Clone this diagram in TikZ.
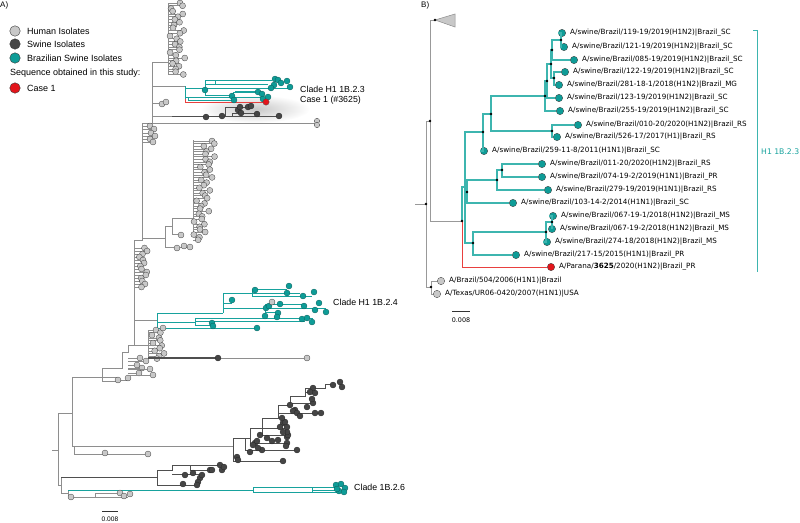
\documentclass[tikz,border=0pt]{standalone}
\usepackage{fontspec}
\setmainfont{Liberation Sans}
\newfontfamily\labfont{DejaVu Sans}
\usetikzlibrary{positioning}

\definecolor{humfill}{HTML}{C8C8C8}
\definecolor{swifill}{HTML}{454545}
\definecolor{brafill}{HTML}{0E9C97}
\definecolor{braedge}{HTML}{0B5F5C}
\definecolor{casfill}{HTML}{E3151B}
\definecolor{dotline}{HTML}{3A3A3A}
\definecolor{treeline}{HTML}{8E8E8E}
\definecolor{swiline}{HTML}{4F4F4F}
\definecolor{braline}{HTML}{17A29D}
\definecolor{bline}{HTML}{3DB5AF}
\definecolor{casline}{HTML}{E8403F}

\begin{document}
\begin{tikzpicture}[x=1pt, y=-1pt,
    tree/.style={draw=treeline, line width=0.6pt},
    swtree/.style={draw=swiline, line width=0.6pt},
    brtree/.style={draw=braline, line width=0.7pt},
    catree/.style={draw=casline, line width=0.8pt},
    hdot/.style={fill=humfill, draw=dotline, line width=0.3pt},
    sdot/.style={fill=swifill, draw=black!85, line width=0.3pt},
    tdot/.style={fill=brafill, draw=braedge, line width=0.3pt},
    legdot/.style={circle, draw=dotline, line width=0.4pt, inner sep=0pt, minimum size=10.5pt},
    legtext/.style={anchor=west, inner sep=0pt, font=\fontsize{9}{10}\selectfont},
    cladetext/.style={anchor=west, inner sep=0pt, font=\fontsize{8.8}{10}\selectfont},
    bleaf/.style={circle, draw=dotline, line width=0.3pt, inner sep=0pt, minimum size=7.4pt},
    blab/.style={anchor=west, inner sep=0pt, font=\labfont\fontsize{7.2}{8}\selectfont},
    bteal/.style={draw=bline, line width=1.2pt},
    bgrey/.style={draw=black!40, line width=0.9pt},
    bred/.style={draw=casline, line width=0.9pt}]
\useasboundingbox (0,0) rectangle (800,522);

% shadow under case 1
\shade[inner color=black!22, outer color=white] (255,109) ellipse [x radius=55, y radius=14];

% panel labels
\node[anchor=west, inner sep=0pt, font=\fontsize{8}{9}\selectfont] (pa) at (0,5) {A)};
\node[anchor=west, inner sep=0pt, font=\fontsize{8}{9}\selectfont] (pb) at (421,5) {B)};

% legend
\node[legdot, fill=humfill] (lh) at (15,31) {};
\node[legtext, right=6.5pt of lh] (th) {Human Isolates};
\node[legdot, fill=swifill] (ls) at (15,44) {};
\node[legtext, right=6.5pt of ls] (ts) {Swine Isolates};
\node[legdot, fill=brafill] (lb) at (15,58) {};
\node[legtext, right=6.5pt of lb] (tb) {Brazilian Swine Isolates};
\node[legtext] (tq) at (10,73) {Sequence obtained in this study:};
\node[legdot, fill=casfill] (lc) at (15,88) {};
\node[legtext, right=6.5pt of lc] (tc) {Case 1};

% ---------------- A) tree ----------------
% root and backbone
\draw[tree] (52,450) -- (58,450);
\draw[tree] (58,413) -- (58,485);
\draw[tree] (58,413) -- (72,413);
\draw[tree] (72,377) -- (72,446) -- (233,446);
\draw[tree] (74,446) |- (146,454);
\draw[tree] (58,485) -- (61,485);
\draw[tree] (61,477) -- (61,493);
\draw[swtree] (61,477) -- (157,477);
\draw[tree] (61,493) -- (68,493);
\draw[tree] (68,490) -- (68,497) -- (128,497);
\draw[tree] (95,497) |- (119,493);
\draw[tree] (72,377) -- (102,377) -- (102,368) -- (122,368) -- (122,352) -- (128,352)
    -- (128,345) -- (134,345) -- (134,240) -- (142,240) -- (142,123) -- (152,123)
    -- (152,62) -- (168,62);
\draw[tree] (102,377) rectangle (117,381);

% clade 1B.2.6
\draw[brtree] (68,490) -- (253,490);
\draw[brtree] (253,487) rectangle (312,492);
\draw[brtree] (312,487) -- (336,487) (312,490) -- (340,490) (312,492) -- (338,492);
\foreach \x/\y in {336/485,341/484,345/488,339/491,344/492,337/489}
    \filldraw[tdot] (\x,\y) circle (3);
\foreach \x/\y in {71/497,120/493,124/496,130/494,105/453,148/454}
    \filldraw[hdot] (\x,\y) circle (3);

% top human cluster
\draw[tree] (168,3) -- (168,75);
\foreach \i in {0,...,26} {
    \pgfmathsetmacro{\hx}{177+5*sin(\i*113)+3*cos(\i*71)}
    \pgfmathsetmacro{\hy}{3+\i*2.75}
    \draw[tree] (168,\hy) -- (\hx,\hy);
    \filldraw[hdot] (\hx,\hy) circle (3);
}

% branches off the upper backbone
\draw[tree] (152,103) -- (160,103);
\foreach \x/\y in {162/104,166/102}
    \filldraw[hdot] (\x,\y) circle (3);
\draw[tree] (152,123) -- (317,123);
\draw[tree] (152,116) -- (172,116);
\draw[swtree] (172,116) -- (279,116);
\draw[swtree] (225,116) |- (251,107);
\draw[swtree] (232,116) |- (257,113);
\foreach \x/\y in {206/117,222/116,238/110,240/107,241/113,248/107,251/106,257/114,279/116}
    \filldraw[sdot] (\x,\y) circle (3);
\filldraw[hdot] (317,121) circle (2.7);
\filldraw[hdot] (317,125) circle (2.7);
\foreach \x/\y in {150/126,154/129,151/133,155/136,150/139,153/142} {
    \draw[tree] (142,\y) -- (\x,\y);
    \filldraw[hdot] (\x,\y) circle (3);
}

% clade H1 1B.2.3 and case 1
\draw[tree] (152,86) -- (185,86);
\draw[catree] (185,98) -- (185,102) -- (263,102);
\draw[brtree] (185,86) -- (185,99);
\draw[brtree] (185,88) -- (205,88) (205,80) -- (205,95);
\draw[brtree] (205,80) -- (272,80) (205,84) -- (268,84) (215,84) -- (215,80);
\draw[brtree] (205,88) -- (288,88);
\draw[brtree] (205,95) -- (233,95) (233,92) -- (258,92) (233,92) -- (233,97);
\draw[braline, line width=1.6pt] (235,92) -- (257,92);
\draw[brtree] (185,97) -- (263,97) (188,100) -- (232,100) (188,97) -- (188,100);
\foreach \x/\y in {205/90,275/79,278/80,287/81,274/85,271/88,290/87,258/92,262/94,
    263/99,268/97,232/96,234/100,281/83}
    \filldraw[tdot] (\x,\y) circle (3);
\filldraw[fill=casfill, draw=black!70, line width=0.3pt] (266,102) circle (3.2);
\node[cladetext] (cl3) at (300,89) {Clade H1 1B.2.3};
\node[cladetext] (cs1) at (300,100) {Case 1 (\#3625)};

% big human cluster
\draw[tree] (142,238) -- (165,238);
\draw[tree] (165,226) -- (165,247) -- (190,247);
\draw[tree] (165,226) -- (172,226) (172,218) -- (172,234) -- (180,234);
\draw[tree] (172,218) -- (193,218) (193,140) -- (193,232);
\foreach \i in {0,...,38} {
    \pgfmathsetmacro{\hx}{210-0.3*\i+5*sin(\i*137)+2*cos(\i*53)}
    \pgfmathsetmacro{\hy}{141+\i*2.6}
    \draw[tree] (193,\hy) -- (\hx,\hy);
    \filldraw[hdot] (\hx,\hy) circle (3);
}
\foreach \x/\y in {177/248,184/246,190/247,181/235}
    \filldraw[hdot] (\x,\y) circle (3);

% human column on the backbone
\foreach \i in {0,...,13} {
    \pgfmathsetmacro{\hx}{143+3*sin(\i*97)+1.5*cos(\i*41)}
    \pgfmathsetmacro{\hy}{248+\i*3}
    \draw[tree] (134,\hy) -- (\hx,\hy);
    \filldraw[hdot] (\hx,\hy) circle (3);
}

% clade H1 1B.2.4
\draw[tree] (134,320) -- (157,320);
\draw[brtree] (157,313) -- (157,328) -- (255,328);
\draw[brtree] (157,313) -- (223,313) (223,293) -- (223,313);
\draw[brtree] (157,322) -- (195,322) (195,318) -- (195,325);
\draw[brtree] (195,318) -- (313,318) (195,321) -- (305,321) (195,325) -- (211,325);
\draw[brtree] (223,293) -- (252,293) (252,289) -- (252,296);
\draw[brtree] (252,289) -- (287,289) (252,293) -- (300,293) (252,296) -- (312,296);
\draw[brtree] (223,303) -- (232,303) (223,308) -- (265,308) (265,304) -- (265,312);
\draw[brtree] (265,304) -- (304,304) (265,308) -- (326,308) (265,312) -- (280,312);
\foreach \x/\y in {255/290,289/286,287/293,303/296,314/292,232/300,280/304,304/306,
    319/303,315/310,326/312,266/308,269/306,278/313,265/316,277/317,302/319,
    307/318,312/322,212/323,213/326,257/328}
    \filldraw[tdot] (\x,\y) circle (3);
\filldraw[hdot] (272,302) circle (3);
\node[cladetext] (cl4) at (333,302) {Clade H1 1B.2.4};

% human cluster below 1B.2.4
\draw[tree] (134,345) -- (148,345) (148,330) -- (148,358);
\foreach \i in {0,...,11} {
    \pgfmathsetmacro{\hx}{156+5*sin(\i*127)+0.4*\i}
    \pgfmathsetmacro{\hy}{330+\i*2.6}
    \draw[tree] (148,\hy) -- (\hx,\hy);
    \filldraw[hdot] (\hx,\hy) circle (3);
}
\draw[swtree, line width=1.1pt] (148,358) -- (218,358);
\draw[tree] (218,358) -- (307,358);
\filldraw[sdot] (218,358) circle (3);
\foreach \x/\y in {307/358,163/328}
    \filldraw[hdot] (\x,\y) circle (3);
\foreach \x/\y in {118/380,128/378,139/373,153/375,137/365,142/368,146/361,150/369,140/358} {
    \draw[tree] (128,\y) -- (\x,\y);
    \filldraw[hdot] (\x,\y) circle (3);
}

% swine clade
\draw[swtree] (233,446) -- (233,438) -- (250,438) -- (250,428) -- (262,428) -- (262,418)
    -- (278,418) -- (278,405) -- (290,405) -- (290,396) -- (305,396) -- (305,388)
    -- (325,388) -- (325,384) -- (333,384);
\draw[swtree] (233,446) |- (281,461);
\draw[swtree] (245,438) |- (297,450);
\draw[swtree] (250,428) |- (287,443);
\draw[swtree] (262,418) |- (288,435);
\draw[swtree] (262,428) -- (287,428);
\draw[swtree] (278,405) |- (321,413);
\draw[swtree] (290,396) |- (313,403);
\draw[swtree] (305,392) -- (315,392);
\foreach \x/\y in {237/457,238/460,283/461,250/452,262/450,297/450,255/443,258/448,
    253/445,257/441,260/435,267/438,278/440,287/437,287/443,288/435,287/432,283/432,
    283/423,280/427,287/427,285/422,282/418,290/405,295/410,293/411,297/413,300/416,
    307/407,313/403,315/413,321/413,312/399,315/393,313/388,310/392,333/385,340/382,
    342/387,286/446,272/441}
    \filldraw[sdot] (\x,\y) circle (3);
\draw[swtree] (157,470) -- (157,485) -- (198,485);
\draw[swtree] (157,470) -- (172,470) -- (172,465) -- (221,465);
\draw[swtree] (172,474) -- (200,474) (190,465) |- (212,470);
\foreach \x/\y in {185/475,193/473,200/478,202/475,198/482,197/485,210/470,212/470,
    220/465,222/470,224/467,183/484}
    \filldraw[sdot] (\x,\y) circle (3);
\node[cladetext] (cl6) at (354,487) {Clade 1B.2.6};

% scale bar A
\draw[black!80, line width=0.9pt] (102,511) -- (118,511);
\node[inner sep=0pt, font=\fontsize{6.6}{7}\selectfont] (sa) at (110,519) {0.008};

% ---------------- B) tree ----------------
\foreach \n/\x/\y/\c/\t in {
    1/562/33/brafill/{A/swine/Brazil/119-19/2019(H1N2)|Brazil\_SC},
    2/564/47/brafill/{A/swine/Brazil/121-19/2019(H1N2)|Brazil\_SC},
    3/574/60/brafill/{A/swine/Brazil/085-19/2019(H1N2)|Brazil\_SC},
    4/565/72/brafill/{A/swine/Brazil/122-19/2019(H1N2)|Brazil\_SC},
    5/559/85/brafill/{A/swine/Brazil/281-18-1/2018(H1N2)|Brazil\_MG},
    6/559/98/brafill/{A/swine/Brazil/123-19/2019(H1N2)|Brazil\_SC},
    7/560/111/brafill/{A/swine/Brazil/255-19/2019(H1N2)|Brazil\_SC},
    8/578/125/brafill/{A/swine/Brazil/010-20/2020(H1N2)|Brazil\_RS},
    9/557/137/brafill/{A/swine/Brazil/526-17/2017(H1)|Brazil\_RS},
    10/484/151/brafill/{A/swine/Brazil/259-11-8/2011(H1N1)|Brazil\_SC},
    11/542/164/brafill/{A/swine/Brazil/011-20/2020(H1N2)|Brazil\_RS},
    12/542/177/brafill/{A/swine/Brazil/074-19-2/2019(H1N1)|Brazil\_PR},
    13/548/190/brafill/{A/swine/Brazil/279-19/2019(H1N1)|Brazil\_RS},
    14/513/203/brafill/{A/swine/Brazil/103-14-2/2014(H1N1)|Brazil\_SC},
    15/553/216/brafill/{A/swine/Brazil/067-19-1/2018(H1N2)|Brazil\_MS},
    16/552/229/brafill/{A/swine/Brazil/067-19-2/2018(H1N2)|Brazil\_MS},
    17/547/242/brafill/{A/swine/Brazil/274-18/2018(H1N2)|Brazil\_MS},
    18/516/255/brafill/{A/swine/Brazil/217-15/2015(H1N1)|Brazil\_PR},
    19/551/267/casfill/{A/Parana/\textbf{3625}/2020(H1N2)|Brazil\_PR},
    20/441/281/humfill/{A/Brazil/504/2006(H1N1)|Brazil},
    21/437/294/humfill/{A/Texas/UR06-0420/2007(H1N1)|USA}} {
    \node[bleaf, fill=\c] (b\n) at (\x,\y) {};
    \node[blab] (t\n) at (\x+8,\y) {\t};
}

% internal nodes
\coordinate (k1) at (561,40);
\coordinate (k2) at (552,50);
\coordinate (k3) at (554,78);
\coordinate (k4) at (551,64);
\coordinate (k5) at (547,81);
\coordinate (k6) at (545,96);
\coordinate (k7) at (552,131);
\coordinate (k8) at (491,114);
\coordinate (k9) at (483,132);
\coordinate (k10) at (502,170);
\coordinate (k11) at (497,180);
\coordinate (k12) at (467,192);
\coordinate (k13) at (552,222);
\coordinate (k14) at (546,232);
\coordinate (k15) at (473,243);
\coordinate (kt) at (465,187);
\coordinate (k16) at (462,221);
\coordinate (k17) at (430,121);
\coordinate (k18) at (431,287);
\coordinate (kr) at (426,204);
\coordinate (tip) at (435,20);

% collapsed clade
\filldraw[fill=humfill, draw=black!45, line width=0.5pt] (tip) -- (455,14) -- (455,27) -- cycle;

\foreach \p/\c in {k1/b1,k1/b2,k2/k1,k2/b3,k3/b4,k3/b5,k4/k2,k4/k3,k5/k4,k5/b6,k6/k5,
    k6/b7,k7/b8,k7/b9,k8/k6,k8/k7,k9/k8,k9/b10,k10/b11,k10/b12,k11/k10,k11/b13,
    k12/k11,k12/b14,k13/b15,k13/b16,k14/k13,k14/b17,k15/k14,k15/b18,kt/k9,kt/k12,
    kt/k15,k16/kt}
    \draw[bteal] (\p) |- (\c);
\foreach \p/\c in {kr/k17,kr/k18,k17/tip,k17/k16,k18/b20,k18/b21}
    \draw[bgrey] (\p) |- (\c);
\draw[bred] (k16) |- (b19);
\draw[bgrey] (415,204) -- (kr);
\foreach \k in {k1,k2,k3,k4,k5,k6,k7,k8,k9,k10,k11,k12,k13,k14,k15,k16,k17,k18,kr,tip}
    \fill (\k) circle (1.4);

% clade bracket
\draw[bline, line width=0.9pt] (753,30) -- (757,30) -- (757,272);
\node[anchor=west, inner sep=0pt, text=braline, font=\labfont\fontsize{7.7}{9}\selectfont] (h1) at (761,152) {H1 1B.2.3};

% scale bar B
\draw[black!80, line width=0.9pt] (452,311) -- (470,311);
\node[inner sep=0pt, font=\labfont\fontsize{6.4}{7}\selectfont] (sb) at (461,320) {0.008};
\end{tikzpicture}
\end{document}
